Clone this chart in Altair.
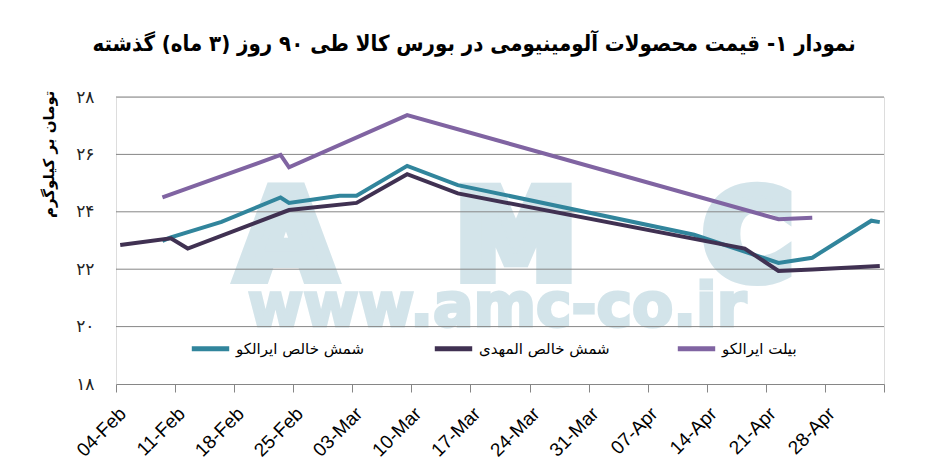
import json
import altair as alt
import pandas as pd

# series (names and colours in legend order)
series_names = ["شمش خالص ایرالکو", "شمش خالص المهدی", "بیلت ایرالکو"]
series_colors = ["#31859c", "#403152", "#8064a2"]

teal_dates = ["2020-02-09", "2020-02-10", "2020-02-16", "2020-02-23", "2020-02-24",
              "2020-03-01", "2020-03-03", "2020-03-09", "2020-03-15", "2020-04-12",
              "2020-04-22", "2020-04-26", "2020-05-03", "2020-05-04"]
teal_vals = [22.99, 23.11, 23.65, 24.50, 24.31, 24.56, 24.56, 25.60, 24.93, 23.20,
             22.22, 22.40, 23.69, 23.64]

dark_dates = ["2020-02-04", "2020-02-10", "2020-02-12", "2020-02-24", "2020-03-03",
              "2020-03-09", "2020-03-15", "2020-04-18", "2020-04-22", "2020-04-26",
              "2020-05-04"]
dark_vals = [22.84, 23.08, 22.72, 24.06, 24.31, 25.31, 24.64, 22.72, 21.94, 21.99, 22.11]

purple_dates = ["2020-02-09", "2020-02-23", "2020-02-24", "2020-03-09", "2020-04-22",
                "2020-04-26"]
purple_vals = [24.50, 25.98, 25.55, 27.37, 23.74, 23.79]

x_ticks = ["2020-02-04", "2020-02-11", "2020-02-18", "2020-02-25", "2020-03-03",
           "2020-03-10", "2020-03-17", "2020-03-24", "2020-03-31", "2020-04-07",
           "2020-04-14", "2020-04-21", "2020-04-28", "2020-05-05"]
x_tick_labels = ["04-Feb", "11-Feb", "18-Feb", "25-Feb", "03-Mar", "10-Mar", "17-Mar",
                 "24-Mar", "31-Mar", "07-Apr", "14-Apr", "21-Apr", "28-Apr", ""]

y_ticks = [18, 20, 22, 24, 26, 28]
y_tick_labels = ["۱۸", "۲۰", "۲۲", "۲۴", "۲۶", "۲۸"]
grid_vals = [20, 22, 24, 26, 28]

title_text = "نمودار ۱- قیمت محصولات آلومینیومی در بورس کالا طی ۹۰ روز (۳ ماه) گذشته"
y_title = "تومان بر کیلوگرم"

frames = []
for name, dates, vals in [(series_names[0], teal_dates, teal_vals),
                          (series_names[1], dark_dates, dark_vals),
                          (series_names[2], purple_dates, purple_vals)]:
    d = pd.DataFrame({"date": pd.to_datetime(dates) + pd.Timedelta(hours=12),
                      "price": vals, "series": name})
    frames.append(d)
df = pd.concat(frames, ignore_index=True)


def dt(s):
    t = pd.Timestamp(s)
    return alt.DateTime(year=t.year, month=t.month, date=t.day)


x_labels_expr = (json.dumps(x_tick_labels) +
                 "[round((datum.value - time(datetime(2020, 1, 4))) / 604800000)]")
y_labels_expr = (json.dumps(y_tick_labels, ensure_ascii=False) +
                 "[round((datum.value - 18) / 2)]")

x_enc = alt.X("date:T",
              scale=alt.Scale(domain=[dt(x_ticks[0]), dt(x_ticks[-1])]),
              axis=alt.Axis(values=[dt(s) for s in x_ticks], labelExpr=x_labels_expr,
                            title=None, grid=False, labelAngle=-45,
                            labelFont="Liberation Sans", labelFontSize=19,
                            labelColor="black", domainColor="#868686",
                            tickColor="#868686", tickSize=8, labelPadding=12))
y_enc = alt.Y("price:Q",
              scale=alt.Scale(domain=[18, 28], nice=False, zero=False),
              axis=alt.Axis(values=y_ticks, labelExpr=y_labels_expr,
                            title=y_title, titleFont="DejaVu Sans", titleFontSize=15,
                            titleFontWeight="bold", titleColor="black",
                            titleX=-68, titleY=-7, titleAlign="right",
                            titleBaseline="middle", titleAngle=-90,
                            domain=False, ticks=False, grid=False, labelPadding=22,
                            labelFont="DejaVu Sans", labelFontSize=17,
                            labelColor="#222222"))

# watermark
wm_color = "#d3e4ea"
watermark = [
    alt.Chart(pd.DataFrame({"t": [ch]})).mark_text(
        text=ch, font="DejaVu Sans", fontWeight="bold", fontSize=120,
        color=wm_color, stroke=wm_color, strokeWidth=14, strokeJoin="miter",
        align="center", baseline="alphabetic"
    ).encode(x=alt.value(px), y=alt.value(180))
    for ch, px in [("A", 170), ("M", 400), ("C", 632)]
]
watermark.append(
    alt.Chart(pd.DataFrame({"t": ["www"]})).mark_text(
        text="www.amc-co.ir", font="DejaVu Sans", fontWeight="bold", fontSize=60,
        color=wm_color, stroke=wm_color, strokeWidth=3,
        align="center", baseline="alphabetic"
    ).encode(x=alt.value(381), y=alt.value(229))
)

grid = alt.Chart(pd.DataFrame({"v": grid_vals})).mark_rule(
    color="#868686", strokeWidth=1
).encode(y=alt.Y("v:Q", scale=alt.Scale(domain=[18, 28], nice=False, zero=False)))

lines = alt.Chart(df).mark_line(strokeWidth=4, strokeJoin="miter").encode(
    x=x_enc,
    y=y_enc,
    color=alt.Color("series:N",
                    scale=alt.Scale(domain=series_names, range=series_colors),
                    legend=alt.Legend(title=None, orient="none", legendX=73, legendY=230,
                                      direction="horizontal", symbolType="stroke",
                                      symbolStrokeWidth=5, symbolSize=1400,
                                      labelFont="DejaVu Sans", labelFontSize=15,
                                      labelColor="black", columnPadding=57,
                                      gridAlign="all", labelOffset=4)),
    detail="series:N",
)

chart = alt.layer(*watermark, grid, lines).properties(
    width=768, height=287,
    autosize=alt.AutoSizeParams(type="none"),
    padding={"left": 108, "top": 89, "right": 55, "bottom": 83},
    title=alt.TitleParams(title_text, font="DejaVu Sans Condensed", fontSize=22,
                          fontWeight="bold", color="black", anchor="middle",
                          dx=-26, offset=32),
).configure_view(stroke=None).configure(background="white")

chart.save("out.html", embed_options={"renderer": "svg", "actions": False})
